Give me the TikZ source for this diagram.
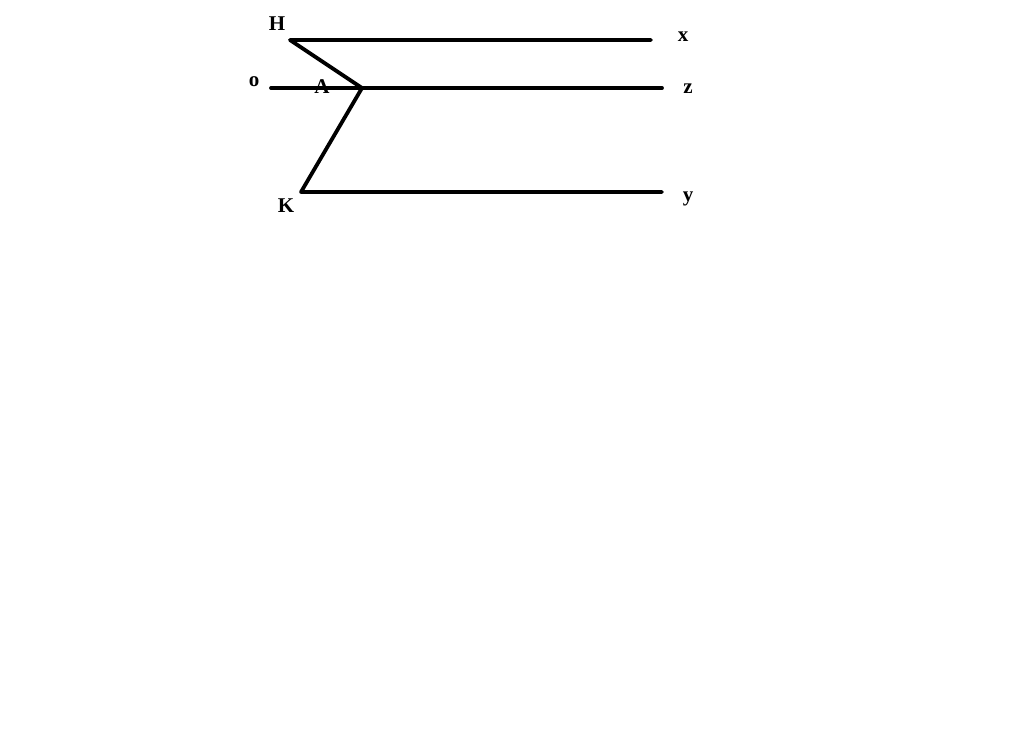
\documentclass[tikz,border=0pt]{standalone}
\usepackage{fontspec}
\setmainfont{Liberation Serif}
\begin{document}
\begin{tikzpicture}[x=1pt,y=-1pt,
  ln/.style={line width=3.8pt,line cap=round,line join=round},
  lbl/.style={font=\fontsize{21}{23}\selectfont\bfseries,inner sep=0pt}]
\useasboundingbox (0,0) rectangle (1024,754);
\coordinate (H) at (290,40);
\coordinate (X) at (651,40);
\coordinate (O) at (271,88);
\coordinate (A) at (362,88);
\coordinate (Z) at (662,88);
\coordinate (K) at (301,192);
\coordinate (Y) at (662,192);
\draw[ln] (X) -- (H) -- (A) -- (K) -- (Y);
\draw[ln] (O) -- (Z);
\node[lbl] (lH) at (277,24) {H};
\node[lbl] (lx) at (683,37) {x};
\node[lbl] (lo) at (254,82) {o};
\node[lbl] (lA) at (322,87) {A};
\node[lbl] (lz) at (688,89) {z};
\node[lbl] (lK) at (286,206) {K};
\node[lbl] (ly) at (688,199) {y};
\end{tikzpicture}
\end{document}
